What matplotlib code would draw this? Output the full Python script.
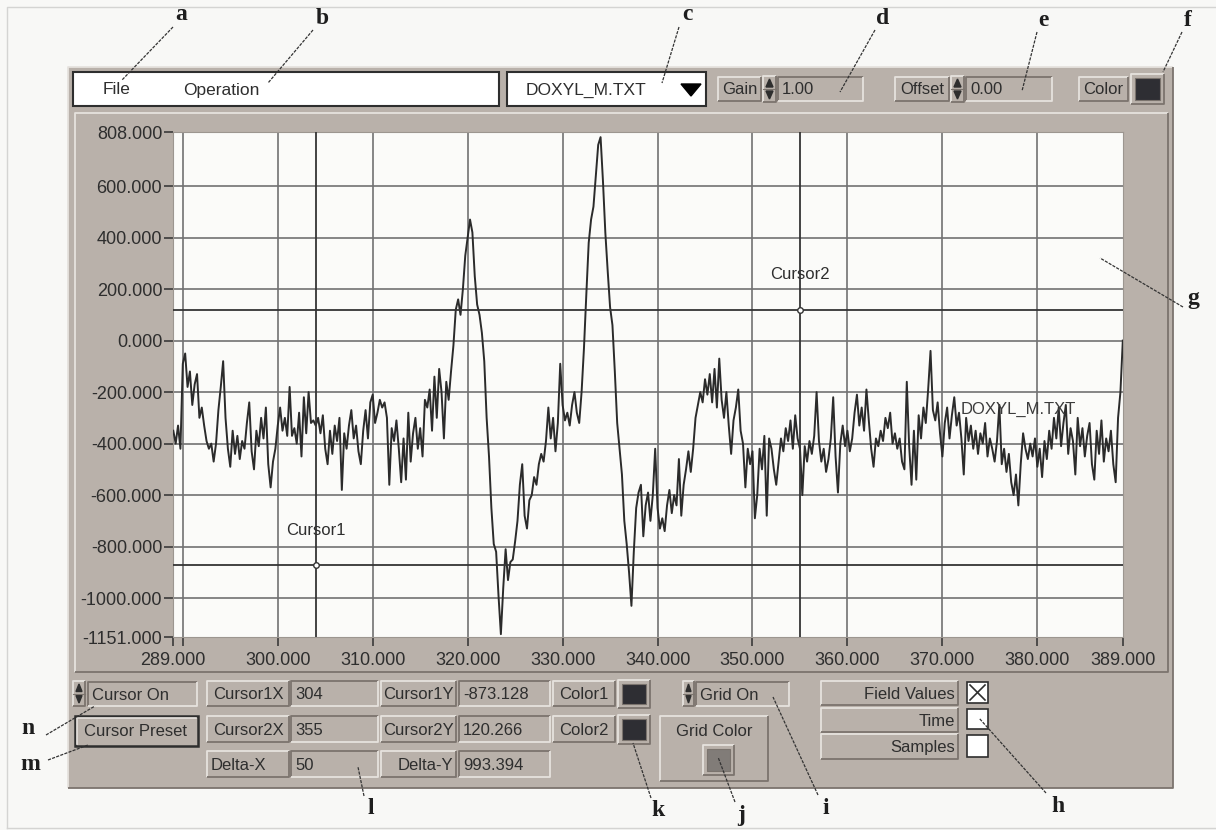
import numpy as np
import matplotlib.pyplot as plt
from matplotlib.patches import Rectangle, Polygon

# EPR spectrum (Gauss vs. field values), one value per 0.25 G
signal = [
    -350, -400, -330, -420, -90, -50, -180, -120, -250, -170, -130, -300, -260, -330, -390, -420, -400, -470, -400, -270,
    -180, -80, -300, -420, -490, -350, -440, -370, -460, -390, -420, -320, -240, -430, -500, -350, -410, -300, -380, -260,
    -480, -570, -470, -420, -330, -260, -350, -300, -370, -180, -370, -340, -400, -280, -450, -220, -360, -200, -320, -310,
    -330, -300, -360, -290, -420, -480, -350, -440, -330, -390, -300, -580, -360, -420, -330, -270, -380, -330, -430, -480,
    -350, -270, -380, -240, -210, -320, -280, -230, -260, -240, -300, -560, -340, -390, -310, -420, -550, -380, -540, -280,
    -470, -360, -300, -420, -340, -450, -230, -260, -190, -350, -140, -300, -110, -200, -380, -160, -230, -120, -20, 120,
    160, 100, 200, 330, 400, 470, 420, 250, 140, 100, 30, -80, -300, -450, -650, -790, -820, -990, -1140, -960,
    -810, -930, -860, -850, -780, -700, -560, -480, -680, -730, -620, -600, -530, -560, -480, -440, -470, -390, -260, -380,
    -300, -430, -320, -90, -250, -310, -280, -330, -250, -200, -280, -320, -200, -30, 180, 380, 470, 520, 640, 760,
    790, 620, 420, 270, 130, 60, -120, -320, -420, -520, -700, -790, -900, -1030, -820, -650, -590, -560, -760, -640,
    -590, -700, -600, -420, -650, -730, -690, -740, -640, -580, -670, -600, -640, -460, -680, -560, -500, -430, -510, -420,
    -300, -250, -200, -240, -150, -210, -130, -240, -110, -260, -70, -230, -300, -200, -330, -440, -310, -260, -190, -350,
    -400, -570, -420, -480, -430, -690, -600, -420, -500, -370, -680, -380, -420, -500, -560, -470, -380, -430, -340, -390,
    -310, -420, -290, -380, -420, -600, -410, -470, -390, -440, -370, -200, -390, -470, -420, -510, -460, -380, -220, -450,
    -590, -400, -330, -410, -350, -430, -380, -280, -210, -330, -260, -350, -190, -310, -420, -490, -380, -410, -350, -390,
    -300, -340, -280, -400, -360, -420, -380, -470, -500, -160, -410, -560, -350, -540, -290, -380, -260, -320, -190, -40,
    -270, -310, -240, -360, -450, -320, -260, -380, -290, -220, -330, -280, -380, -520, -300, -390, -330, -420, -350, -440,
    -360, -400, -320, -450, -380, -420, -470, -390, -250, -480, -420, -510, -440, -550, -600, -520, -640, -480, -360, -420,
    -460, -400, -450, -380, -490, -420, -530, -390, -460, -350, -420, -300, -380, -260, -410, -320, -250, -440, -340, -390,
    -520, -300, -410, -340, -450, -370, -320, -480, -540, -350, -440, -310, -470, -380, -430, -350, -480, -550, -300, -200,
    0,
]
field = np.linspace(289, 389, len(signal))

x_ticks = [289, 300, 310, 320, 330, 340, 350, 360, 370, 380, 389]
y_ticks = [808, 600, 400, 200, 0, -200, -400, -600, -800, -1000, -1151]
x_grid = [290, 300, 310, 320, 330, 340, 350, 360, 370, 380]
y_grid = [600, 400, 200, 0, -200, -400, -600, -800, -1000]

cursor_names = ["Cursor1", "Cursor2"]
cursor_x = [304, 355]
cursor_y = [-873.128, 120.266]
readout_x = ["304", "355", "50"]
readout_y = ["-873.128", "120.266", "993.394"]
file_name = "DOXYL_M.TXT"

# colours of the LabVIEW panel
BG = "#f8f8f6"
PANEL = "#b9b1aa"
LIGHT = "#e6e2de"
DARK = "#7b746e"
INK = "#2e2e2e"
GRID = "#727272"

plt.rcParams["font.family"] = ["Liberation Sans", "DejaVu Sans"]

W, H = 1216, 830
fig = plt.figure(figsize=(W / 100, H / 100), dpi=100, facecolor=BG)

# pixel-space layer for the panel widgets
ui = fig.add_axes([0, 0, 1, 1])
ui.set_xlim(0, W)
ui.set_ylim(H, 0)
ui.axis("off")
ui.set_zorder(0)


def bevel(x0, y0, x1, y1, face=PANEL, raised=True, lw=1.3):
    ui.add_patch(Rectangle((x0, y0), x1 - x0, y1 - y0, facecolor=face, edgecolor="none"))
    tl, br = (LIGHT, DARK) if raised else (DARK, LIGHT)
    ui.plot([x0, x0, x1], [y1, y0, y0], color=tl, lw=lw, solid_capstyle="butt")
    ui.plot([x0, x1, x1], [y1, y1, y0], color=br, lw=lw, solid_capstyle="butt")


def label(x0, y0, x1, y1, s, ha="center", raised=True):
    bevel(x0, y0, x1, y1, raised=raised)
    if ha == "center":
        tx = (x0 + x1) / 2
    elif ha == "left":
        tx = x0 + 4
    else:
        tx = x1 - 3
    ui.text(tx, (y0 + y1) / 2 + 1, s, ha=ha, va="center", fontsize=12, color=INK)


def spinner(x0, y0, x1, y1):
    bevel(x0, y0, x1, y1)
    xm, ym = (x0 + x1) / 2, (y0 + y1) / 2
    ui.add_patch(Polygon([[x0 + 3, ym - 2], [x1 - 3, ym - 2], [xm, y0 + 3]], color=INK))
    ui.add_patch(Polygon([[x0 + 3, ym + 2], [x1 - 3, ym + 2], [xm, y1 - 3]], color=INK))
    ui.plot([x0, x1], [ym, ym], color=DARK, lw=0.8)


def swatch(x0, y0, x1, y1, face):
    bevel(x0, y0, x1, y1)
    ui.add_patch(Rectangle((x0 + 4, y0 + 4), x1 - x0 - 8, y1 - y0 - 8,
                           facecolor=face, edgecolor=DARK, lw=0.8))


def checkbox(x0, y0, x1, y1, cross=False):
    ui.add_patch(Rectangle((x0, y0), x1 - x0, y1 - y0, facecolor="white", edgecolor=INK, lw=1.2))
    if cross:
        ui.plot([x0 + 3, x1 - 3], [y0 + 3, y1 - 3], color=INK, lw=1.2)
        ui.plot([x0 + 3, x1 - 3], [y1 - 3, y0 + 3], color=INK, lw=1.2)


# thin frame of the screenshot
ui.plot([7, 7, W], [H - 2, 7, 7], color="#d4d4d2", lw=1)
ui.plot([7, W], [H - 2, H - 2], color="#d4d4d2", lw=1)

# main panel
bevel(68, 67, 1173, 788)

# top bar
ui.add_patch(Rectangle((73, 72), 426, 34, facecolor="white", edgecolor=INK, lw=1.5))
ui.text(103, 90, "File", ha="left", va="center", fontsize=12.5, color=INK)
ui.text(183, 90, "Operation", ha="left", va="center", fontsize=12.5, color=INK)
ui.add_patch(Rectangle((507, 72), 199, 34, facecolor="white", edgecolor=INK, lw=1.5))
ui.text(526, 90, file_name, ha="left", va="center", fontsize=12.5, color=INK)
ui.add_patch(Polygon([[681, 84], [701, 84], [691, 96]], color="black"))

label(718, 77, 761, 101, "Gain")
spinner(763, 76, 776, 102)
label(778, 77, 863, 101, "1.00", ha="left", raised=False)
label(895, 77, 949, 101, "Offset")
spinner(951, 76, 964, 102)
label(966, 77, 1052, 101, "0.00", ha="left", raised=False)
label(1079, 77, 1128, 101, "Color")
swatch(1131, 74, 1164, 104, "#2e2e33")

# graph frame
bevel(75, 113, 1168, 672)

# bottom controls
rows = [(681, 706), (716, 742), (751, 777)]
spinner(73, 681, 85, 706)
label(88, 682, 197, 706, "Cursor On", ha="left", raised=False)
ui.add_patch(Rectangle((75, 716), 123, 30, facecolor=PANEL, edgecolor=INK, lw=1.8))
ui.plot([77, 77, 196], [744, 718, 718], color=LIGHT, lw=1.2)
ui.text(136, 731, "Cursor Preset", ha="center", va="center", fontsize=12, color=INK)

for i, (y0, y1) in enumerate(rows):
    if i < 2:
        label(207, y0, 289, y1, f"Cursor{i + 1}X")
        label(381, y0, 456, y1, f"Cursor{i + 1}Y")
        label(553, y0, 615, y1, f"Color{i + 1}")
        swatch(618, y0 - 1, 650, y1 + 2, "#2e2e33")
    else:
        label(207, y0, 289, y1, "Delta-X", ha="left")
        label(381, y0, 456, y1, "Delta-Y", ha="right")
    label(291, y0, 378, y1, readout_x[i], ha="left", raised=False)
    label(459, y0, 550, y1, readout_y[i], ha="left", raised=False)

spinner(683, 681, 694, 706)
label(696, 682, 789, 706, "Grid On", ha="left", raised=False)
bevel(660, 716, 768, 781)
ui.text(714, 731, "Grid Color", ha="center", va="center", fontsize=12, color=INK)
swatch(703, 745, 734, 775, "#817c78")

label(821, 681, 958, 705, "Field Values", ha="right")
label(821, 708, 958, 732, "Time", ha="right")
label(821, 734, 958, 759, "Samples", ha="right")
checkbox(967, 682, 988, 703, cross=True)
checkbox(967, 709, 988, 729)
checkbox(967, 735, 988, 757)

# the graph itself
left, right, top, bottom = 173.3, 1122.8, 132.5, 637.0
ax = fig.add_axes([left / W, 1 - bottom / H, (right - left) / W, (bottom - top) / H])
ax.set_zorder(1)
ax.set_facecolor("#fbfbf9")
ax.set_xlim(289, 389)
ax.set_ylim(-1151, 808)

for gx in x_grid:
    ax.axvline(gx, color=GRID, lw=1.2, zorder=1)
for gy in y_grid:
    ax.axhline(gy, color=GRID, lw=1.2, zorder=1)

ax.plot(field, signal, color="#2b2b2b", lw=1.4, zorder=3)

for name, cx, cy in zip(cursor_names, cursor_x, cursor_y):
    ax.axvline(cx, color="#343434", lw=1.3, zorder=4)
    ax.axhline(cy, color="#343434", lw=1.3, zorder=4)
    ax.plot(cx, cy, "o", ms=4, mfc="white", mec="#343434", mew=1, zorder=5)
    ax.annotate(name, (cx, cy), xytext=(0, 25), textcoords="offset points",
                ha="center", va="center", fontsize=12, color=INK, zorder=6)

ax.text(371.9, -268, file_name, ha="left", va="center", fontsize=12, color="#3c3c3c", zorder=6)

ax.set_xticks(x_ticks, [f"{v:.3f}" for v in x_ticks])
ax.set_yticks(y_ticks, [f"{v:.3f}" for v in y_ticks])
ax.set_xticks([290], minor=True)
ax.tick_params(axis="both", which="both", length=6.5, width=1.2, color="#3a3a3a",
               labelsize=13, labelcolor=INK)
ax.tick_params(axis="y", pad=1.5)
ax.tick_params(axis="x", pad=4)
for sp in ax.spines.values():
    sp.set_color("#9c9690")
    sp.set_linewidth(0.8)

# overlay for the callout letters
ov = fig.add_axes([0, 0, 1, 1])
ov.set_xlim(0, W)
ov.set_ylim(H, 0)
ov.axis("off")
ov.set_zorder(2)
ov.patch.set_visible(False)

letters = ["a", "b", "c", "d", "e", "f", "g", "h", "i", "j", "k", "l", "m", "n"]
letter_xy = [(181, 15), (322, 18), (687, 15), (883, 18), (1043, 20), (1188, 20), (1193, 298),
             (1058, 806), (826, 808), (741, 815), (658, 810), (371, 808), (30, 764), (28, 728)]
leaders = [((173, 27), (122, 80)), ((313, 30), (268, 83)), ((679, 27), (662, 83)),
           ((875, 30), (840, 92)), ((1037, 32), (1022, 91)), ((1182, 32), (1163, 72)),
           ((1183, 307), (1100, 258)), ((1046, 793), (979, 718)), ((818, 795), (773, 697)),
           ((735, 802), (718, 757)), ((651, 798), (633, 743)), ((364, 796), (358, 767)),
           ((48, 760), (88, 745)), ((46, 735), (95, 706))]

for s, (lx, ly), (p0, p1) in zip(letters, letter_xy, leaders):
    ov.plot([p0[0], p1[0]], [p0[1], p1[1]], color="#333333", lw=0.9, ls=(0, (2.5, 1)))
    ov.text(lx, ly, s, ha="center", va="center", fontsize=17, fontweight="bold",
            family="Liberation Serif", color="#1e1e1e")

fig.savefig("out.png", dpi=100, facecolor=BG)
